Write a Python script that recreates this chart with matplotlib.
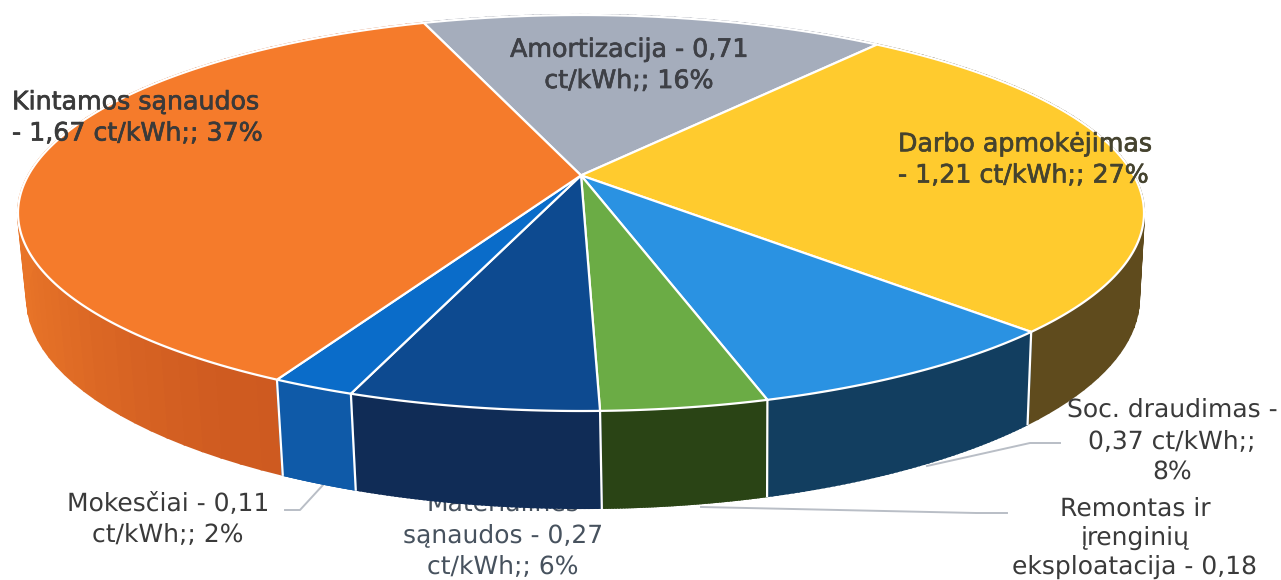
import numpy as np
import matplotlib
matplotlib.use("Agg")
import matplotlib.pyplot as plt
import matplotlib.colors as mc
import matplotlib.patheffects as pe

plt.rcParams['font.family'] = ['DejaVu Sans']
plt.rcParams['text.hinting'] = 'no_hinting'
plt.rcParams['text.hinting_factor'] = 1

# percent shares, clockwise from the top-left edge of Amortizacija
names = ['Amortizacija', 'Darbo apmokėjimas', 'Soc. draudimas', 'Remontas', 'Materialines', 'Mokesčiai', 'Kintamos']
shares = [16, 27, 8, 4, 6, 2, 37]
top_colors = ['#A5ADBC', '#FFCB2E', '#2A92E2', '#6BAC45', '#0D4A90', '#0A6CC9', '#F57B2B']
side_colors = ['#6E7484', '#5F4B1D', '#123E60', '#2A4415', '#102C56', '#0F5AA8', '#CE5A20']
orange_light = '#E87428'  # left end of the orange side

start_angle = 109.6
k = 0.19  # how far the hub sits off the ellipse centre (perspective)


def project(theta, a, b, cx, cy):
    # circle -> perspective shift -> ellipse in pixel coords
    x, y = np.cos(theta), np.sin(theta)
    d = 1 + k*y
    return cx + a*x*np.sqrt(1 - k**2)/d, cy - b*(y + k)/d


def top_xy(theta):
    return project(theta, 563, 198, 581, 213)


def bottom_xy(theta):
    return project(theta, 556, 210, 583, 298)


fig = plt.figure(figsize=(12.81, 5.8), dpi=100)
ax = fig.add_axes([0, 0, 1, 1])
ax.set_xlim(0, 1281)
ax.set_ylim(580, 0)
ax.axis('off')

fracs = np.array(shares) / sum(shares)
edges = np.radians(start_angle - 360*np.concatenate([[0], np.cumsum(fracs)]))

# sides as thin quads so the outline follows the hull of both ellipses
for i in [6, 1, 0, 2, 3, 4, 5]:
    th = np.linspace(edges[i], edges[i+1], 60)
    tx, ty = top_xy(th)
    bx, by = bottom_xy(th)
    for j in range(len(th)-1):
        c = side_colors[i]
        if i == 6:
            # orange gets lighter towards the left edge
            w = np.clip((300 - tx[j]) / 280, 0, 1)**2
            c = (1-w)*np.array(mc.to_rgb(side_colors[i])) + w*np.array(mc.to_rgb(orange_light))
        ax.fill([tx[j], tx[j+1], bx[j+1], bx[j]], [ty[j], ty[j+1], by[j+1], by[j]],
                facecolor=c, edgecolor=c, lw=1.5, zorder=3)

# white separators on the front of the side wall
for e in edges[2:7]:
    tx, ty = top_xy(e)
    bx, by = bottom_xy(e)
    ax.plot([tx, bx], [ty, by], color='white', lw=1.6, zorder=3.5)

# top faces
hx, hy = 581.0, 213 - 198*k
for i in range(len(shares)):
    th = np.linspace(edges[i], edges[i+1], 200)
    tx, ty = top_xy(th)
    ax.fill(np.r_[hx, tx], np.r_[hy, ty], facecolor=top_colors[i], edgecolor='white', lw=1.6, zorder=4)

# leader lines
lc = '#B9BEC6'
ax.plot([285, 300, 323], [510, 510, 485], color=lc, lw=1.4, zorder=2)
ax.plot([1060, 1030, 927], [443, 443, 466], color=lc, lw=1.4, zorder=2)
ax.plot([1007, 976, 701], [513, 513, 507], color=lc, lw=1.4, zorder=2)

txt = '#3A3A3A'
fs = 18.2
ls = 1.37


def heavy(c):
    return [pe.withStroke(linewidth=0.5, foreground=c)]


t = ax.text(628, 65.5, 'Amortizacija - 0,71\nct/kWh;; 16%', ha='center', va='center', fontsize=fs, color='#3E4046', linespacing=ls, zorder=5)
t.set_path_effects(heavy('#3E4046'))
t = ax.text(898, 160, 'Darbo apmokėjimas\n- 1,21 ct/kWh;; 27%', ha='left', va='center', fontsize=fs, color='#45432F', linespacing=ls, zorder=5)
t.set_path_effects(heavy('#45432F'))
t = ax.text(12, 118, 'Kintamos sąnaudos\n- 1,67 ct/kWh;; 37%', ha='left', va='center', fontsize=fs, color=txt, linespacing=ls, zorder=5)
t.set_path_effects(heavy(txt))
ax.text(1172, 441, 'Soc. draudimas -\n0,37 ct/kWh;;\n8%', ha='center', va='center', fontsize=fs, color=txt, linespacing=ls, zorder=5)
ax.text(1135, 538, 'Remontas ir\nįrenginių\neksploatacija - 0,18', ha='center', va='center', fontsize=fs, color=txt, linespacing=1.27, zorder=5)
ax.text(503, 535, 'Materialines\nsąnaudos - 0,27\nct/kWh;; 6%', ha='center', va='center', fontsize=fs, color='#47525E', linespacing=ls, zorder=2)
ax.text(168, 519, 'Mokesčiai - 0,11\nct/kWh;; 2%', ha='center', va='center', fontsize=fs, color=txt, linespacing=ls, zorder=5)

fig.savefig('out.png', dpi=100)
